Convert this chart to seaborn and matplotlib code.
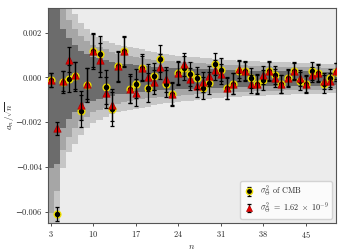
import matplotlib
matplotlib.use("Agg")
import matplotlib.pyplot as plt
import numpy as np
import pandas as pd
import seaborn as sns
from matplotlib.lines import Line2D

# multipole index
n_vals = list(range(3, 51))

# a_n / sqrt(n), units of 1e-3
cmb_vals = [-0.12, -6.1, -0.2, -0.05, 0.06, -1.5, -0.34, 1.2, 1.05, -0.43, -1.42, 0.5,
            1.17, -0.5, -0.28, 0.43, -0.46, 0.06, 0.84, -0.28, -0.73, 0.2, 0.43, 0.16,
            -0.02, -0.46, -0.24, 0.6, 0.35, -0.46, -0.27, 0.28, 0.28, -0.02, -0.28, -0.1,
            0.28, 0.1, -0.28, -0.02, 0.28, -0.16, -0.28, 0.28, 0.2, -0.31, -0.02, 0.25]
sig_vals = [-0.12, -2.27, -0.16, 0.8, 0.1, -1.24, -0.28, 1.2, 0.78, -0.68, -1.23, 0.5,
            1.17, -0.53, -0.68, 0.43, 0.01, -0.2, 0.49, -0.09, -0.73, 0.2, 0.58, -0.06,
            -0.36, -0.21, 0.06, 0.35, 0.16, -0.49, -0.27, 0.38, 0.28, -0.28, -0.28, 0.1,
            0.28, -0.02, -0.28, -0.02, 0.28, -0.02, -0.28, 0.13, 0.2, -0.16, -0.16, 0.28]
cmb_err = [0.3, 0.3, 0.5, 0.6, 0.65, 0.7, 0.75, 0.8, 0.8, 0.75, 0.75, 0.7,
           0.7, 0.65, 0.65, 0.6, 0.65, 0.6, 0.6, 0.6, 0.55, 0.55, 0.55, 0.55,
           0.5, 0.5, 0.5, 0.5, 0.5, 0.5, 0.45, 0.45, 0.45, 0.45, 0.45, 0.45,
           0.45, 0.4, 0.4, 0.4, 0.4, 0.4, 0.4, 0.4, 0.4, 0.4, 0.4, 0.4]
sig_err = [0.3, 0.3, 0.45, 0.55, 0.6, 0.65, 0.7, 0.75, 0.75, 0.7, 0.7, 0.65,
           0.65, 0.6, 0.6, 0.55, 0.6, 0.55, 0.55, 0.55, 0.5, 0.5, 0.5, 0.5,
           0.5, 0.45, 0.45, 0.45, 0.45, 0.45, 0.45, 0.4, 0.4, 0.4, 0.4, 0.4,
           0.4, 0.4, 0.4, 0.35, 0.35, 0.35, 0.35, 0.35, 0.35, 0.35, 0.35, 0.35]

# confidence band half-widths, units of 1e-3
band_1s = [4.0, 3.8, 2.2, 1.8, 1.5, 1.25, 1.1, 0.98, 0.9, 0.82, 0.76, 0.71, 0.67, 0.64,
           0.61, 0.58, 0.56, 0.54, 0.52, 0.5, 0.49, 0.47, 0.46, 0.45, 0.44, 0.43, 0.42,
           0.41, 0.4, 0.39, 0.38, 0.38, 0.37, 0.36, 0.36, 0.35, 0.35, 0.34, 0.34, 0.33,
           0.33, 0.32, 0.32, 0.31, 0.31, 0.31, 0.3, 0.3]
band_2s = [6.0, 5.0, 3.2, 2.6, 2.2, 1.9, 1.7, 1.5, 1.4, 1.3, 1.2, 1.12, 1.06, 1.0,
           0.96, 0.92, 0.88, 0.85, 0.82, 0.8, 0.78, 0.76, 0.74, 0.72, 0.7, 0.68, 0.66,
           0.65, 0.64, 0.62, 0.61, 0.6, 0.59, 0.58, 0.57, 0.56, 0.55, 0.54, 0.54, 0.53,
           0.52, 0.52, 0.51, 0.5, 0.5, 0.49, 0.49, 0.48]
band_3s = [7.0, 6.5, 4.0, 3.3, 2.9, 2.5, 2.2, 2.0, 1.85, 1.7, 1.6, 1.5, 1.45, 1.4,
           1.35, 1.3, 1.25, 1.2, 1.15, 1.1, 1.07, 1.03, 1.0, 0.98, 0.95, 0.93, 0.9,
           0.88, 0.86, 0.84, 0.82, 0.8, 0.79, 0.78, 0.77, 0.76, 0.75, 0.74, 0.73, 0.72,
           0.71, 0.7, 0.7, 0.69, 0.68, 0.67, 0.66, 0.65]
band_center = -0.05

x_ticks = [3, 10, 17, 24, 31, 38, 45]
y_ticks = [-0.006, -0.004, -0.002, 0.0, 0.002]

sns.set_theme(style="ticks")
plt.rcParams["font.family"] = ["cmr10", "DejaVu Serif"]
plt.rcParams["mathtext.fontset"] = "cm"
plt.rcParams["axes.formatter.use_mathtext"] = True
plt.rcParams["axes.unicode_minus"] = True

scale = 1e-3
n = np.array(n_vals)
df = pd.DataFrame({
    "n": n_vals * 2,
    "a": np.r_[cmb_vals, sig_vals] * scale,
    "err": np.r_[cmb_err, sig_err] * scale,
    "series": ["cmb"] * len(n_vals) + ["sig"] * len(n_vals),
})
cmb = df[df.series == "cmb"]
sig = df[df.series == "sig"]

fig, ax = plt.subplots(figsize=(3.45, 2.52), dpi=100)
fig.subplots_adjust(left=0.139, right=0.974, top=0.968, bottom=0.115)
ax.set_facecolor("#ececec")

c = band_center * scale
bands = [(band_3s, "#c6c6c6"), (band_2s, "#a6a6a6"), (band_1s, "#6c6c6c")]
for half, col in bands:
    h = np.array(half) * scale
    ax.fill_between(n, c - h, c + h, step="mid", color=col, lw=0, zorder=1)
    # extend first/last step to the axis edges
    ax.fill_between([2.5, 3], c - h[0], c + h[0], color=col, lw=0, zorder=1)
    ax.fill_between([50, 50.5], c - h[-1], c + h[-1], color=col, lw=0, zorder=1)

eb_kw = dict(fmt="none", ecolor="black", elinewidth=0.9, capsize=1.6, capthick=0.9, zorder=4)
e1 = ax.errorbar(cmb.n, cmb.a, yerr=cmb.err, **eb_kw)
e2 = ax.errorbar(sig.n, sig.a, yerr=sig.err, **eb_kw)

sns.scatterplot(data=cmb, x="n", y="a", marker="o", s=24, color="black",
                edgecolor="#f0e000", linewidth=1.0, ax=ax, zorder=3, legend=False)
sns.scatterplot(data=sig, x="n", y="a", marker="^", s=28, color="#ee0000",
                edgecolor="#aa0000", linewidth=0.5, ax=ax, zorder=3, legend=False)

h1 = Line2D([], [], marker="o", ls="none", mfc="black", mec="#f0e000", mew=1.0, ms=4.5)
h2 = Line2D([], [], marker="^", ls="none", mfc="#ee0000", mec="#aa0000", mew=0.5, ms=5)
ax.legend([(e1, h1), (e2, h2)],
          [r"$\sigma_\Theta^2$ of CMB", r"$\sigma_\Theta^2\ =\ 1.62\ \times\ 10^{-9}$"],
          loc="lower right", fontsize=5.8, frameon=True, framealpha=0.8,
          edgecolor="#cccccc", fancybox=True, borderpad=0.4, handletextpad=0.6,
          labelspacing=0.2, handlelength=1.5)

ax.set_xlim(2.5, 50)
ax.set_ylim(-0.0065, 0.0031)
ax.set_xticks(x_ticks)
ax.set_yticks(y_ticks)
ax.yaxis.set_major_formatter(plt.FuncFormatter(lambda v, p: f"{v:.3f}".replace("-", "\u2212")))
ax.tick_params(labelsize=6, length=2.5, width=0.6, pad=2, color="#333333")
for s in ax.spines.values():
    s.set_linewidth(0.8)
    s.set_color("#555555")
ax.set_xlabel(r"$n$", fontsize=6.5, labelpad=1.5)
ax.set_ylabel(r"$a_n/\sqrt{n}$", fontsize=6.5)
ax.yaxis.set_label_coords(-0.11, 0.5)

fig.savefig("out.png", dpi=100)
